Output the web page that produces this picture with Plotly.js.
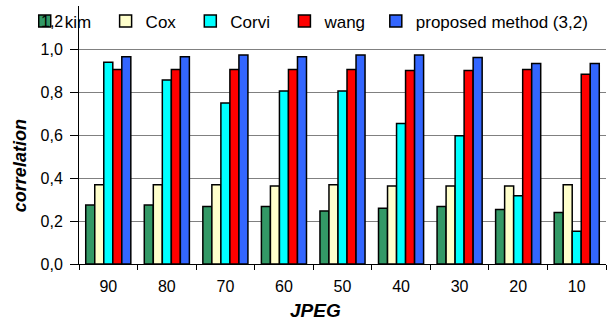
<!DOCTYPE html>
<html>
<head>
<meta charset="utf-8">
<script src="https://cdn.plot.ly/plotly-3.0.1.min.js"></script>
<style>html,body{margin:0;padding:0;background:#fff;}#chart{width:607px;height:327px;}</style>
</head>
<body>
<div id="chart"></div>
<script>
const categories = ["90", "80", "70", "60", "50", "40", "30", "20", "10"];
const kim      = [0.274, 0.274, 0.267, 0.267, 0.247, 0.259, 0.267, 0.253, 0.240];
const cox      = [0.369, 0.369, 0.369, 0.363, 0.369, 0.363, 0.363, 0.363, 0.369];
const corvi    = [0.938, 0.856, 0.749, 0.805, 0.805, 0.653, 0.597, 0.318, 0.152];
const wang     = [0.905, 0.905, 0.905, 0.905, 0.905, 0.900, 0.900, 0.905, 0.882];
const proposed = [0.964, 0.964, 0.972, 0.964, 0.972, 0.972, 0.960, 0.933, 0.933];
const seriesNames = ["kim", "Cox", "Corvi", "wang", "proposed method (3,2)"];
const seriesColors = ["#339966", "#FFFFCC", "#00FFFF", "#FF0000", "#3366FF"];
const yTickVals = [0, 0.2, 0.4, 0.6, 0.8, 1.0];

const allSeries = [kim, cox, corvi, wang, proposed];
const namePad = ["\u00a0\u00a0", "\u00a0\u00a0", "\u00a0\u00a0", "\u00a0", ""];
const traces = allSeries.map((vals, i) => ({
  type: "bar",
  name: seriesNames[i] + namePad[i],
  x: categories,
  y: vals,
  marker: {color: seriesColors[i], line: {color: "#000", width: 1.5}}
}));

const font = {family: "Arial, 'Liberation Sans', sans-serif", size: 16, color: "#000"};

const layout = {
  width: 607, height: 327,
  margin: {l: 79, r: 1, t: 6, b: 63, autoexpand: false},
  paper_bgcolor: "#fff", plot_bgcolor: "#fff",
  font: font,
  separators: ",.",
  barmode: "group",
  bargap: 0.23,
  bargroupgap: 0,
  showlegend: true,
  legend: {
    orientation: "h", x: -0.103, xanchor: "left", y: 1.01, yanchor: "top",
    bgcolor: "rgba(0,0,0,0)", font: {family: font.family, size: 17, color: "#000"},
    itemwidth: 30, traceorder: "normal"
  },
  xaxis: {
    type: "category",
    showline: true, linecolor: "#000", linewidth: 1,
    ticks: "outside", tickson: "boundaries", ticklen: 5, tickcolor: "#000",
    tickfont: {size: 16}, ticklabelstandoff: 8,
    zeroline: false, showgrid: false, fixedrange: true
  },
  yaxis: {
    range: [0, 1.2],
    tickvals: yTickVals,
    ticktext: yTickVals.map(v => v.toFixed(1).replace(".", ",")),
    showline: true, linecolor: "#000", linewidth: 1,
    ticks: "outside", ticklen: 8, tickcolor: "#000",
    tickfont: {size: 16}, ticklabelstandoff: 4,
    showgrid: true, gridcolor: "#808080", gridwidth: 1,
    zeroline: false,
    fixedrange: true
  },
  annotations: [
    {xref: "paper", yref: "y", x: -0.027, y: 1.127, xanchor: "right", yanchor: "middle",
     text: "1,2", showarrow: false, font: {size: 16, color: "#000"}},
    {xref: "paper", yref: "paper", x: -0.113, y: 0.381, xanchor: "center", yanchor: "middle",
     textangle: -90,
     text: "<b><i>correlation</i></b>", showarrow: false, font: {size: 18, color: "#000"}},
    {xref: "paper", yref: "paper", x: 0.448, y: -0.18, xanchor: "center", yanchor: "middle",
     text: "<b><i>JPEG</i></b>", showarrow: false, font: {size: 19, color: "#000"}}
  ]
};

Plotly.newPlot("chart", traces, layout, {displayModeBar: false, staticPlot: true});
</script>
</body>
</html>
